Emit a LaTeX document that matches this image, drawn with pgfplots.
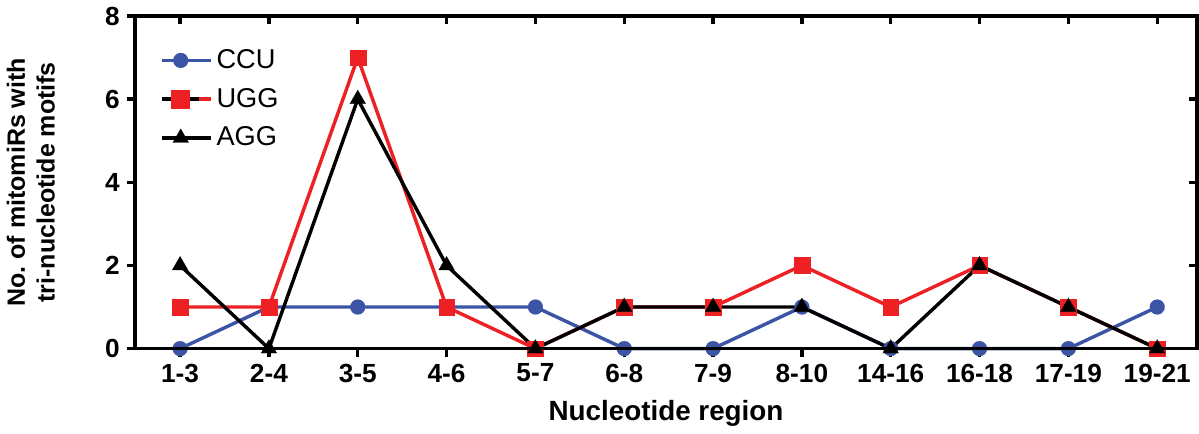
\documentclass[border=0pt]{standalone}
\usepackage{fontspec}
\setmainfont{Liberation Sans}
\usepackage{pgfplots}
\pgfplotsset{compat=1.18}
\definecolor{ccublue}{RGB}{59,84,165}
\definecolor{uggred}{RGB}{237,32,36}

\begin{document}
\begin{tikzpicture}
  \begin{axis}[
      name=main,
      scale only axis,
      width=527pt, height=165pt,
      xmin=-0.51, xmax=11.45,
      ymin=0, ymax=8,
      xtick={0,...,11},
      xticklabels={1-3,2-4,3-5,4-6,5-7,6-8,7-9,8-10,14-16,16-18,17-19,19-21},
      ytick={0,2,4,6,8},
      xtick pos=bottom, ytick pos=left,
      tick align=outside,
      major tick length=4pt,
      tick style={line width=1.7pt, black},
      axis line style={line width=1.8pt},
      clip=false,
      ticklabel style={font=\bfseries\fontsize{13}{15}\selectfont},
      /pgf/number format/assume math mode=true,
      xlabel={\bfseries Nucleotide region},
      ylabel={\bfseries No.\ of mitomiRs with\\\bfseries tri-nucleotide motifs},
      label style={font=\fontsize{12.4}{14.8}\selectfont, align=center},
      xlabel style={font=\fontsize{13.8}{15}\selectfont, yshift=-2pt},
      ylabel style={yshift=18pt},
      legend style={draw=none, fill=none, at={(0.018,0.925)}, anchor=north west,
        font=\fontsize{13.5}{15}\selectfont, row sep=4.3pt,
        /tikz/every even column/.append style={column sep=5pt}},
      legend cell align=left,
      legend image code/.code={
        \draw[#1] (0cm,0cm) -- (0.65cm,0cm);
        \draw[#1, mark repeat=2, mark phase=2] plot coordinates {(0cm,0cm) (0.325cm,0cm) (0.65cm,0cm)};
        \path (0.65cm,0cm) -- (0.85cm,0cm);
      },
      every axis plot/.append style={line width=1.7pt},
    ]
    \addplot[color=ccublue, mark=*, mark size=3.7pt,
      mark options={fill=ccublue, draw=ccublue, line width=0.1pt}] coordinates {
      (0,0) (1,1) (2,1) (3,1) (4,1) (5,0) (6,0) (7,1) (8,0) (9,0) (10,0) (11,1)
    };
    \addlegendentry{CCU}
    \addplot[color=uggred, mark=square*, mark size=3.9pt,
      mark options={fill=uggred, draw=uggred, line width=0.1pt},
      legend image code/.code={
        \draw[black, line width=1.7pt] (0cm,0cm) -- (0.65cm,0cm);
        \fill[uggred] (0.325cm,0cm) ++(-3.9pt,-3.9pt) rectangle ++(7.8pt,7.8pt);
        \path (0.65cm,0cm) -- (0.85cm,0cm);
      }] coordinates {
      (0,1) (1,1) (2,7) (3,1) (4,0) (5,1) (6,1) (7,2) (8,1) (9,2) (10,1) (11,0)
    };
    \addlegendentry{UGG}
    \addplot[color=black, mark=triangle*, mark size=4.5pt,
      mark options={fill=black, draw=black, line width=0.1pt}] coordinates {
      (0,2) (1,0) (2,6) (3,2) (4,0) (5,1) (6,1) (7,1) (8,0) (9,2) (10,1) (11,0)
    };
    \addlegendentry{AGG}
  \end{axis}
  % inward ticks on top and right
  \begin{axis}[
      overlay,
      at={(main.origin)}, anchor=origin,
      scale only axis,
      width=527pt, height=165pt,
      xmin=-0.51, xmax=11.45,
      ymin=0, ymax=8,
      xtick={0,...,11}, ytick={0,2,4,6,8},
      xticklabels={}, yticklabels={},
      xtick pos=top, ytick pos=right,
      tick align=inside,
      major tick length=4pt,
      tick style={line width=1.7pt, black},
      axis line style={line width=1.8pt},
    ]
  \end{axis}
\end{tikzpicture}
\end{document}
